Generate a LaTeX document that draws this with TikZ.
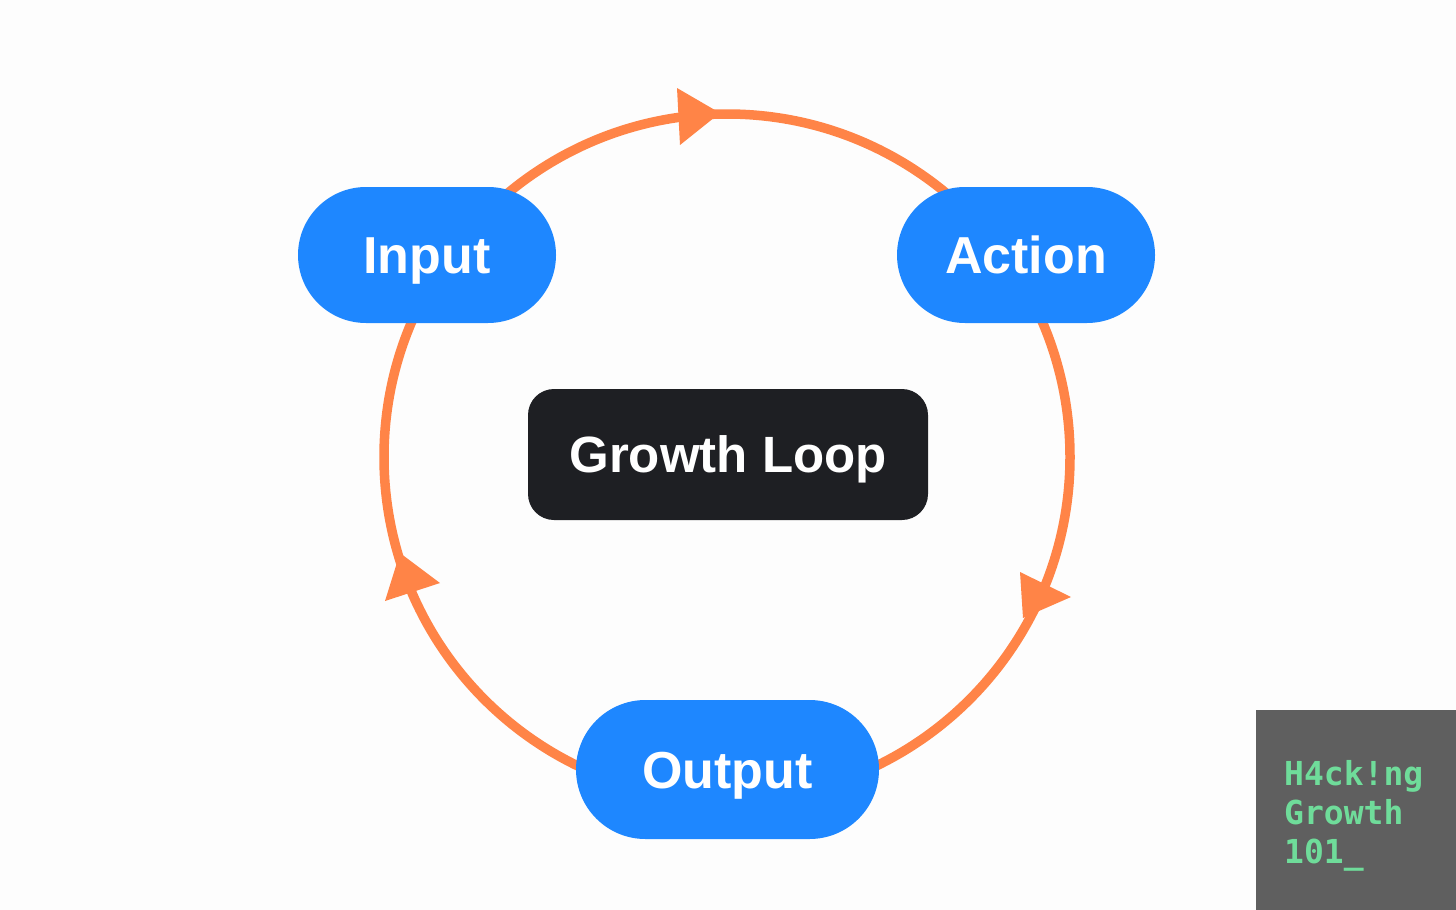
\documentclass[tikz,border=0pt]{standalone}
\usepackage{fontspec}
\setmainfont{Liberation Sans}
\newfontfamily\badgefont{DejaVu Sans Mono}
\definecolor{ringcol}{HTML}{FF8447}
\definecolor{pillcol}{HTML}{1E87FF}
\definecolor{darkcol}{HTML}{1E1F23}
\definecolor{bgcol}{HTML}{FDFDFD}
\definecolor{badgecol}{HTML}{5F5F5F}
\definecolor{badgetext}{HTML}{6FDC9A}
\tikzset{
  ring/.style={draw=ringcol, line width=9.5pt},
  arrowtip/.style={fill=ringcol},
  pill/.style={fill=pillcol, text=white, rectangle, rounded corners=68pt,
    minimum height=136pt, inner sep=0pt, font=\fontsize{52}{60}\selectfont\bfseries,
    text height=37.2pt, text depth=0pt},
  centerbox/.style={fill=darkcol, text=white, rectangle, rounded corners=26pt,
    minimum width=400pt, minimum height=131pt, inner sep=0pt,
    font=\fontsize{51}{60}\selectfont\bfseries, text height=36.5pt, text depth=0pt},
  badgeline/.style={anchor=base west, inner sep=0pt, text=badgetext,
    font=\badgefont\bfseries\fontsize{33}{39}\selectfont},
}
\begin{document}
\begin{tikzpicture}[x=1pt, y=-1pt]
\useasboundingbox (0,0) rectangle (1456,910);
\fill[bgcol] (0,0) rectangle (1456,910);
% loop
\coordinate (C) at (727,457);
\draw[ring] (C) circle[radius=343pt];
\fill[arrowtip] (720,113) -- (677,88) -- (680,145) -- cycle;
\fill[arrowtip] (1023,618) -- (1020,572) -- (1071,597) -- cycle;
\fill[arrowtip] (400,553) -- (440,583) -- (385,601) -- cycle;
% nodes
\node[pill, minimum width=258pt] (input) at (427,255) {Input};
\node[pill, minimum width=258pt] (action) at (1026,255) {Action};
\node[pill, minimum width=303pt, minimum height=139pt, rounded corners=69.5pt] (output) at (727.5,769.5) {Output};
\node[centerbox] (loop) at (728,454.5) {Growth Loop};
% badge
\fill[badgecol] (1256,710) rectangle (1456,910);
\node[badgeline] (b1) at (1284,785) {H4ck!ng};
\node[badgeline] (b2) at (1284,824) {Growth};
\node[badgeline] (b3) at (1284,863) {101\_};
\end{tikzpicture}
\end{document}
